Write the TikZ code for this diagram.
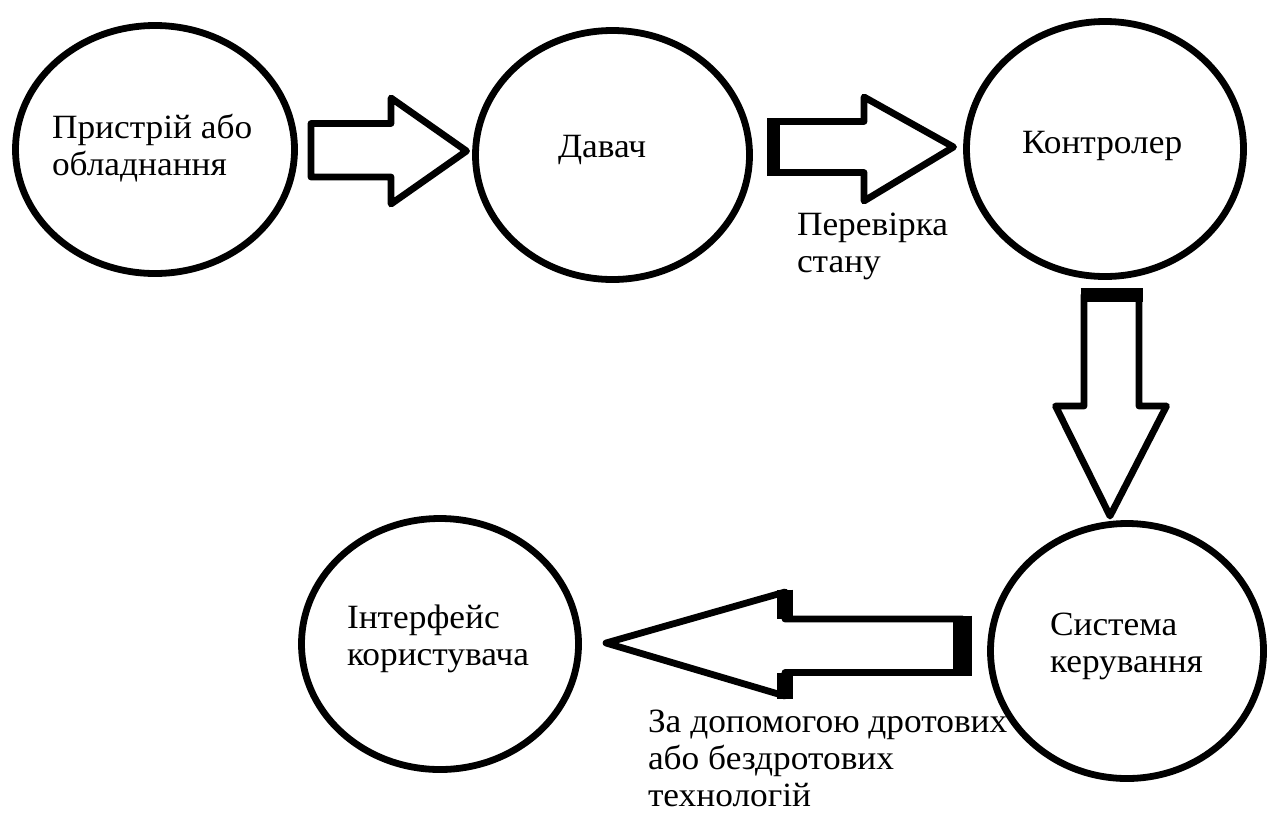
\documentclass[tikz,border=0pt]{standalone}
\usepackage{fontspec}
\setmainfont{Liberation Serif}
\usepackage{graphicx}
\usetikzlibrary{shapes.geometric}
\newcommand{\wtext}[1]{\scalebox{1.04}[1]{\begin{tabular}[t]{@{}l@{}}#1\end{tabular}}}
\tikzset{
  ell/.style={draw, line width=3.4pt, ellipse, inner sep=0pt},
  blk/.style={draw, line width=3.4pt, line join=round, fill=white},
  thk/.style={line width=#1, line cap=butt},
  lbl/.style={inner sep=0pt, outer sep=0pt, anchor=base west, font=\fontsize{17}{18.5}\selectfont}
}
\begin{document}
\begin{tikzpicture}[x=0.5pt,y=-0.5pt]
\useasboundingbox (0,0) rectangle (1272,814);
% ellipses
\node[ell, minimum width=139.5pt, minimum height=124pt] (e1) at (155,149.5) {};
\node[ell, minimum width=137pt, minimum height=124.5pt] (e2) at (612.5,155) {};
\node[ell, minimum width=138.5pt, minimum height=127.5pt] (e3) at (1105,149) {};
\node[ell, minimum width=136.5pt, minimum height=127.5pt] (e4) at (1127,651) {};
\node[ell, minimum width=138.5pt, minimum height=125.5pt] (e5) at (440,644) {};
% texts
\node[lbl] (t1) at (52,138) {\wtext{Пристрій або\\обладнання}};
\node[lbl] (t2) at (558,157) {\wtext{Давач}};
\node[lbl] (t3) at (1022,153) {\wtext{Контролер}};
\node[lbl] (t4) at (1050,635) {\wtext{Система\\керування}};
\node[lbl] (t5) at (347,628) {\wtext{Інтерфейс\\користувача}};
\node[lbl] (t6) at (797,235) {\wtext{Перевірка\\стану}};
\node[lbl] (t7) at (648,732) {\wtext{За допомогою дротових\\або бездротових\\технологій}};
% block arrows
\draw[blk] (311,123.5) -- (391,123.5) -- (391,98) -- (466.5,151) -- (391,204) -- (391,177) -- (311,177) -- cycle;
\draw[blk] (773.5,121.5) -- (864,121.5) -- (864,97) -- (953.5,147) -- (864,201) -- (864,172.5) -- (773.5,172.5) -- cycle;
\draw[thk=6.5pt] (773.5,118) -- (773.5,176);
\draw[blk] (1084,295) -- (1139,295) -- (1139,406) -- (1166.5,406) -- (1110,516) -- (1055.5,406) -- (1084,406) -- cycle;
\draw[thk=7pt] (1080.5,295) -- (1142.5,295);
\draw[blk] (606,643) -- (785,592) -- (785,619) -- (962.5,619) -- (962.5,672.5) -- (785,672.5) -- (785,696) -- cycle;
\draw[thk=9.5pt] (962.5,615.5) -- (962.5,676);
\draw[thk=8pt] (785,589.5) -- (785,619);
\draw[thk=8pt] (785,672.5) -- (785,698.5);
\end{tikzpicture}
\end{document}
